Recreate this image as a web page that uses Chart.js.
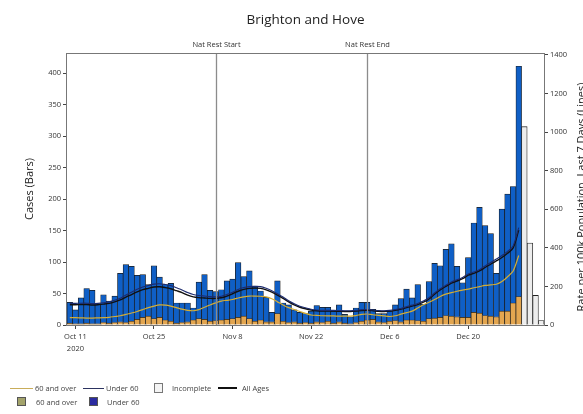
<!DOCTYPE html>
<html>
<head>
<meta charset="utf-8">
<script src="https://cdn.jsdelivr.net/npm/chart.js@4.4.0/dist/chart.umd.min.js"></script>
<style>
  html, body { margin: 0; padding: 0; background: #fff; }
  #wrap { position: relative; width: 583px; height: 414px; overflow: hidden; }
  #legend { position: absolute; left: 0; top: 0; width: 583px; height: 414px; pointer-events: none;
            font-family: "Open Sans", sans-serif; font-size: 7.5px; color: #444; }
  #legend span { position: absolute; white-space: nowrap; line-height: 10px; }
  #legend i { position: absolute; display: block; }
</style>
</head>
<body>
<div id="wrap">
  <canvas id="chart" width="583" height="414"></canvas>
  <div id="legend">
    <i style="left:10px;top:388px;width:23px;height:1px;background:#c9ad5a"></i>
    <span style="left:35px;top:383px">60 and over</span>
    <i style="left:83px;top:388px;width:21px;height:1px;background:#2c3360"></i>
    <span style="left:106px;top:383px">Under 60</span>
    <i style="left:154px;top:383px;width:7px;height:8px;background:#f4f4f4;border:1px solid #777"></i>
    <span style="left:172px;top:383px">Incomplete</span>
    <i style="left:218px;top:387px;width:19px;height:2px;background:#111"></i>
    <span style="left:242px;top:383px">All Ages</span>
    <i style="left:17px;top:397px;width:7px;height:7px;background:#a3a36b;border:1px solid #555"></i>
    <span style="left:36px;top:397px">60 and over</span>
    <i style="left:89px;top:397px;width:7px;height:7px;background:#2b2ba0;border:1px solid #555"></i>
    <span style="left:107px;top:397px">Under 60</span>
  </div>
</div>
<script>
// days, Oct 10 2020 .. Jan 2 2021
const dates = [
  'Oct 10','Oct 11','Oct 12','Oct 13','Oct 14','Oct 15','Oct 16','Oct 17','Oct 18','Oct 19','Oct 20',
  'Oct 21','Oct 22','Oct 23','Oct 24','Oct 25','Oct 26','Oct 27','Oct 28','Oct 29','Oct 30','Oct 31',
  'Nov 1','Nov 2','Nov 3','Nov 4','Nov 5','Nov 6','Nov 7','Nov 8','Nov 9','Nov 10',
  'Nov 11','Nov 12','Nov 13','Nov 14','Nov 15','Nov 16','Nov 17','Nov 18','Nov 19','Nov 20',
  'Nov 21','Nov 22','Nov 23','Nov 24','Nov 25','Nov 26','Nov 27','Nov 28','Nov 29','Nov 30',
  'Dec 1','Dec 2','Dec 3','Dec 4','Dec 5','Dec 6','Dec 7','Dec 8','Dec 9','Dec 10',
  'Dec 11','Dec 12','Dec 13','Dec 14','Dec 15','Dec 16','Dec 17','Dec 18','Dec 19','Dec 20',
  'Dec 21','Dec 22','Dec 23','Dec 24','Dec 25','Dec 26','Dec 27','Dec 28','Dec 29','Dec 30','Dec 31',
  'Jan 1','Jan 2'
];
const tickDates = ['Oct 11', 'Oct 25', 'Nov 8', 'Nov 22', 'Dec 6', 'Dec 20'];
const tickYear = '2020';
const leftTicks = [0, 50, 100, 150, 200, 250, 300, 350, 400];
const rightTicks = [0, 200, 400, 600, 800, 1000, 1200, 1400];

// cases by specimen date (bars), Oct 10 .. Dec 29
const cases60 = [
  3,2,2,3,2,2,4,3,4,5, 4,6,9,12,14,10,12,8,6,3,
  4,5,8,10,9,6,7,8,9,10, 12,14,10,6,8,5,5,18,6,4,
  5,3,4,3,5,4,6,3,5,3, 2,4,6,8,9,5,4,6,7,5,
  8,8,7,6,10,11,12,15,14,13, 12,12,20,19,15,14,13,22,22,35,
  45
];
const casesUnder60 = [
  33,22,41,55,53,32,44,35,42,77, 92,87,70,68,50,84,64,56,60,32,
  31,30,19,58,71,49,46,48,61,63, 87,63,76,56,46,39,15,52,29,28,
  19,17,14,19,26,24,22,19,27,14, 11,23,30,28,16,13,14,16,25,37,
  49,35,57,27,59,87,82,105,115,80, 55,95,142,168,143,131,69,162,186,185,
  366
];
// Dec 30 .. Jan 2
const casesIncomplete = [315, 130, 47, 7];

// rate per 100k, last 7 days (lines), Oct 10 .. Dec 29
const rate60 = [
  38,38,37,36,36,37,38,40,44,48, 55,62,70,80,90,98,104,103,98,90,
  82,76,74,80,92,104,115,124,128,132, 140,146,150,150,149,146,136,120,104,90,
  80,70,60,52,50,48,47,47,46,46, 46,49,55,57,53,50,47,44,48,56,
  64,72,88,105,118,132,148,160,168,175, 181,186,193,199,205,208,211,225,250,280,
  360
];
const rateUnder60 = [
  112,112,113,113,111,112,115,120,128,139, 155,170,185,197,205,212,214,210,204,193,
  182,168,158,153,150,147,146,149,158,170, 184,194,199,201,199,190,178,162,145,126,
  110,97,89,82,78,76,76,76,75,74, 74,76,79,80,78,75,74,76,80,86,
  95,103,112,124,141,166,188,206,223,234, 246,265,275,287,306,324,342,360,382,410,
  505
];
const rateAll = [
  105,105,106,106,104,105,108,112,120,130, 145,158,172,183,190,197,198,194,188,178,
  168,155,146,142,140,138,138,141,150,162, 175,185,190,192,190,182,170,155,138,120,
  104,92,84,78,74,72,72,72,71,70, 70,72,75,76,74,71,70,72,76,82,
  90,98,106,118,135,160,182,200,217,228, 240,258,268,280,298,315,332,350,372,400,
  492
];

const eventDates = ['Nov 5', 'Dec 2'];
const eventNames = ['Nat Rest Start', 'Nat Rest End'];

const FONT = '"Open Sans", sans-serif';
const incompleteData = dates.map((d, i) => {
  const k = i - (dates.length - casesIncomplete.length);
  return k >= 0 ? casesIncomplete[k] : null;
});

const decorations = {
  id: 'decorations',
  afterDatasetsDraw(chart) {
    const { ctx, chartArea: a, scales } = chart;
    ctx.save();
    eventDates.forEach((d, i) => {
      const x = Math.round(scales.x.getPixelForValue(dates.indexOf(d))) + 0.5;
      ctx.strokeStyle = '#8c8c8c';
      ctx.lineWidth = 1.3;
      ctx.beginPath();
      ctx.moveTo(x, a.top);
      ctx.lineTo(x, a.bottom);
      ctx.stroke();
      ctx.fillStyle = '#333';
      ctx.font = '7.5px ' + FONT;
      ctx.textAlign = 'center';
      ctx.textBaseline = 'bottom';
      ctx.fillText(eventNames[i], x, a.top - 4);
    });
    // frame
    ctx.strokeStyle = '#777';
    ctx.lineWidth = 1;
    ctx.strokeRect(Math.round(a.left) - 0.5, Math.round(a.top) + 0.5,
                   Math.round(a.right - a.left) + 1, Math.round(a.bottom - a.top));
    // titles
    ctx.fillStyle = '#222';
    ctx.font = '13.5px ' + FONT;
    ctx.textAlign = 'center';
    ctx.textBaseline = 'middle';
    ctx.fillText('Brighton and Hove', (a.left + a.right) / 2, 20);
    ctx.font = '11px ' + FONT;
    const mid = (a.top + a.bottom) / 2;
    ctx.translate(30, mid);
    ctx.rotate(-Math.PI / 2);
    ctx.fillText('Cases (Bars)', 0, 0);
    ctx.rotate(Math.PI / 2);
    ctx.translate(-30, -mid);
    ctx.translate(582, mid + 8);
    ctx.rotate(-Math.PI / 2);
    ctx.fillText('Rate per 100k Population, Last 7 Days (Lines)', 0, 0);
    ctx.restore();
  }
};

new Chart(document.getElementById('chart'), {
  type: 'bar',
  data: {
    labels: dates,
    datasets: [
      { type: 'line', label: '60 and over', data: rate60, yAxisID: 'y1', order: 0,
        borderColor: '#d4ad35', borderWidth: 1.2, pointRadius: 0, tension: 0.3 },
      { type: 'line', label: 'Under 60', data: rateUnder60, yAxisID: 'y1', order: 0,
        borderColor: '#1d2b6e', borderWidth: 1.1, pointRadius: 0, tension: 0.3 },
      { type: 'line', label: 'All Ages', data: rateAll, yAxisID: 'y1', order: 0,
        borderColor: '#111', borderWidth: 1.4, pointRadius: 0, tension: 0.3 },
      { label: '60 and over', data: cases60, yAxisID: 'y', order: 1,
        backgroundColor: '#e3a650', borderColor: '#1a1a1a', borderWidth: 0.7 },
      { label: 'Under 60', data: casesUnder60, yAxisID: 'y', order: 1,
        backgroundColor: '#0f5fc6', borderColor: '#1a1a1a', borderWidth: 0.7 },
      { label: 'Incomplete', data: incompleteData, yAxisID: 'y', order: 1,
        backgroundColor: '#ededed', borderColor: '#222', borderWidth: 0.8 }
    ]
  },
  options: {
    responsive: false,
    animation: false,
    devicePixelRatio: 1,
    layout: { padding: { top: 53, left: 0, right: 0, bottom: 0 } },
    datasets: { bar: { barPercentage: 1, categoryPercentage: 1 } },
    plugins: { legend: { display: false }, title: { display: false }, tooltip: { enabled: false } },
    scales: {
      x: {
        stacked: true,
        offset: true,
        border: { display: false },
        grid: {
          offset: false, drawOnChartArea: false, tickLength: 4,
          color: (c) => tickDates.includes(dates[c.index]) ? '#444' : 'rgba(0,0,0,0)'
        },
        ticks: {
          autoSkip: false, maxRotation: 0, padding: 2, color: '#333',
          font: { family: FONT, size: 7.5, lineHeight: 1.6 },
          callback: (v, i) => {
            const d = dates[i];
            if (d === tickDates[0]) return [d, tickYear];
            return tickDates.includes(d) ? d : '';
          }
        },
        afterFit: (s) => { s.height = 89; }
      },
      y: {
        position: 'left',
        stacked: true,
        min: 0,
        max: 432,
        border: { display: false },
        grid: { drawOnChartArea: false, tickLength: 4, color: '#444' },
        ticks: { padding: 2, color: '#333', font: { family: FONT, size: 7.5 }, callback: (v) => String(v) },
        afterBuildTicks: (s) => { s.ticks = leftTicks.map((v) => ({ value: v })); },
        afterFit: (s) => { s.width = 67; }
      },
      y1: {
        position: 'right',
        min: 0,
        max: 1410,
        border: { display: false },
        grid: { drawOnChartArea: false, tickLength: 4, color: '#444' },
        ticks: { padding: 2, color: '#333', font: { family: FONT, size: 7.5 }, callback: (v) => String(v) },
        afterBuildTicks: (s) => { s.ticks = rightTicks.map((v) => ({ value: v })); },
        afterFit: (s) => { s.width = 39; }
      }
    }
  },
  plugins: [decorations]
});
</script>
</body>
</html>
